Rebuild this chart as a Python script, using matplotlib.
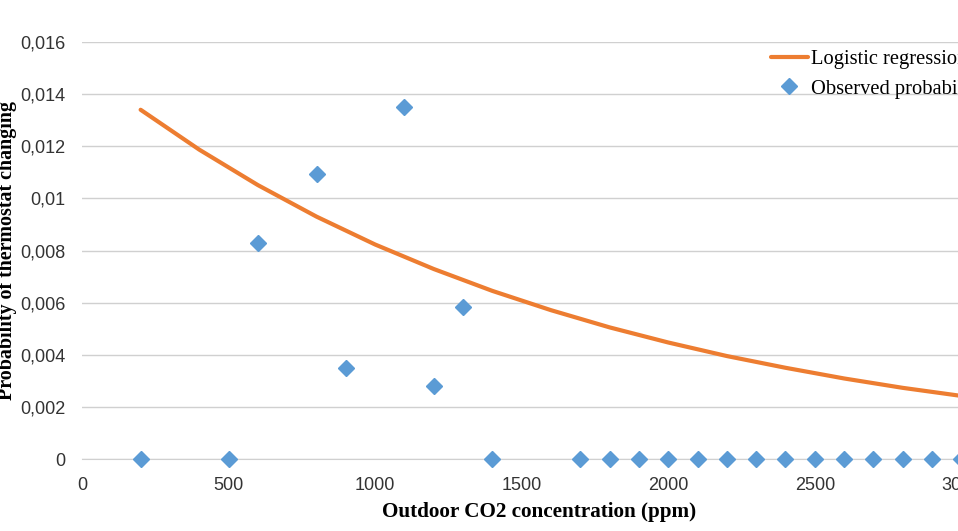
import matplotlib.pyplot as plt
from matplotlib.ticker import FuncFormatter

# observed probabilities
obs_x = [200, 500, 600, 800, 900, 1100, 1200, 1300, 1400,
         1700, 1800, 1900, 2000, 2100, 2200, 2300, 2400, 2500,
         2600, 2700, 2800, 2900, 3000]
obs_y = [0.0, 0.0, 0.0083, 0.01095, 0.0035, 0.0135, 0.0028, 0.00583, 0.0,
         0.0, 0.0, 0.0, 0.0, 0.0, 0.0, 0.0, 0.0, 0.0,
         0.0, 0.0, 0.0, 0.0, 0.0]

# logistic regression curve
fit_x = [200, 400, 600, 800, 1000, 1200, 1400, 1600, 1800, 2000,
         2200, 2400, 2600, 2800, 3000, 3200]
fit_y = [0.0134, 0.01187, 0.01051, 0.0093, 0.00823, 0.00729, 0.00645, 0.00571,
         0.00505, 0.00447, 0.00395, 0.0035, 0.00309, 0.00273, 0.00242, 0.00214]

y_ticks = [0, 0.002, 0.004, 0.006, 0.008, 0.010, 0.012, 0.014, 0.016]
x_ticks = [0, 500, 1000, 1500, 2000, 2500, 3000]

fig = plt.figure(figsize=(9.58, 5.31), dpi=100)
# plot area runs past the right edge, as in the cropped original
ax = fig.add_axes([82 / 958, 72 / 531, 938 / 958, 417 / 531])

ax.plot(fit_x, fit_y, color='#ED7D31', linewidth=3, label='Logistic regression',
        solid_capstyle='round', zorder=3)
ax.plot(obs_x, obs_y, linestyle='none', marker='D', markersize=8,
        color='#5B9BD5', label='Observed probability', zorder=4, clip_on=False)

ax.set_xlim(0, 3200)
ax.set_ylim(0, 0.016)
ax.set_xticks(x_ticks)
ax.set_yticks(y_ticks)
ax.yaxis.set_major_formatter(FuncFormatter(lambda v, p: '{:g}'.format(round(v, 4)).replace('.', ',')))

ax.grid(axis='y', color='#D0D0D0', linewidth=1)
ax.set_axisbelow(True)
for s in ['top', 'right', 'left']:
    ax.spines[s].set_visible(False)
ax.spines['bottom'].set_color('#D0D0D0')
ax.tick_params(length=0, labelsize=13, colors='#333333')
ax.tick_params(axis='y', pad=12)
ax.tick_params(axis='x', pad=13)
for lbl in ax.get_xticklabels() + ax.get_yticklabels():
    lbl.set_family('Liberation Sans')

ax.set_xlabel('Outdoor CO2 concentration (ppm)', family='Liberation Serif',
              fontweight='bold', fontsize=15.2)
ax.xaxis.set_label_coords((539 - 82) / 938, -0.103)
ax.set_ylabel('Probability of thermostat changing', family='Liberation Serif',
              fontweight='bold', fontsize=14.4)
ax.yaxis.set_label_coords(-0.069, 0.5)

fig.legend(loc='upper left', bbox_to_anchor=(752 / 958, 1 - 31 / 531),
           frameon=False, prop={'family': 'Liberation Serif', 'size': 14.8},
           handlelength=1.8, handletextpad=0.15, labelspacing=0.5)

fig.savefig('out.png', dpi=100)
